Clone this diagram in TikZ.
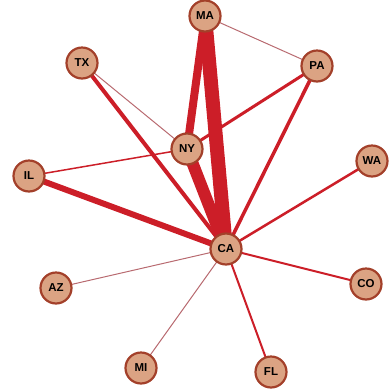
\documentclass[tikz,border=0pt]{standalone}
\usepackage{fontspec}
\setsansfont{Liberation Sans}
\usetikzlibrary{backgrounds}
\definecolor{edgered}{HTML}{CC1E28}
\definecolor{edgepink}{HTML}{B86A70}
\definecolor{nodefill}{HTML}{DBA383}
\definecolor{nodeline}{HTML}{A3402A}
\tikzset{
  state/.style={circle, draw=nodeline, line width=2.2pt, fill=nodefill, minimum size=31pt, inner sep=0pt, font=\sffamily\bfseries\fontsize{11.5}{13}\selectfont},
  link/.style={draw=edgered, line cap=round},
  faint/.style={draw=edgepink, line width=1pt}
}
\begin{document}
\begin{tikzpicture}[x=1pt, y=-1pt]
\useasboundingbox (0,0) rectangle (392,392);
\node[state] (MA) at (205,16) {MA};
\node[state] (PA) at (317,66) {PA};
\node[state] (TX) at (82,63) {TX};
\node[state] (NY) at (187,149) {NY};
\node[state] (WA) at (372,161) {WA};
\node[state] (IL) at (29,176) {IL};
\node[state] (CA) at (226,249) {CA};
\node[state] (AZ) at (56,288) {AZ};
\node[state] (CO) at (366,284) {CO};
\node[state] (MI) at (141,368) {MI};
\node[state] (FL) at (271,372) {FL};
\begin{pgfonlayer}{background}
\draw[faint] (MA.center) -- (PA.center);
\draw[faint] (TX.center) -- (NY.center);
\draw[faint] (AZ.center) -- (CA.center);
\draw[faint] (MI.center) -- (CA.center);
\draw[link, line width=8pt] (MA.center) -- (NY.center);
\draw[link, line width=14pt] (MA.center) -- (CA.center);
\draw[link, line width=12pt] (NY.center) -- (CA.center);
\draw[link, line width=3pt] (PA.center) -- (NY.center);
\draw[link, line width=3.5pt] (PA.center) -- (CA.center);
\draw[link, line width=4pt] (TX.center) -- (CA.center);
\draw[link, line width=1.5pt] (IL.center) -- (NY.center);
\draw[link, line width=6pt] (IL.center) -- (CA.center);
\draw[link, line width=2.5pt] (WA.center) -- (CA.center);
\draw[link, line width=2pt] (CO.center) -- (CA.center);
\draw[link, line width=2pt] (FL.center) -- (CA.center);
\end{pgfonlayer}
\end{tikzpicture}
\end{document}
